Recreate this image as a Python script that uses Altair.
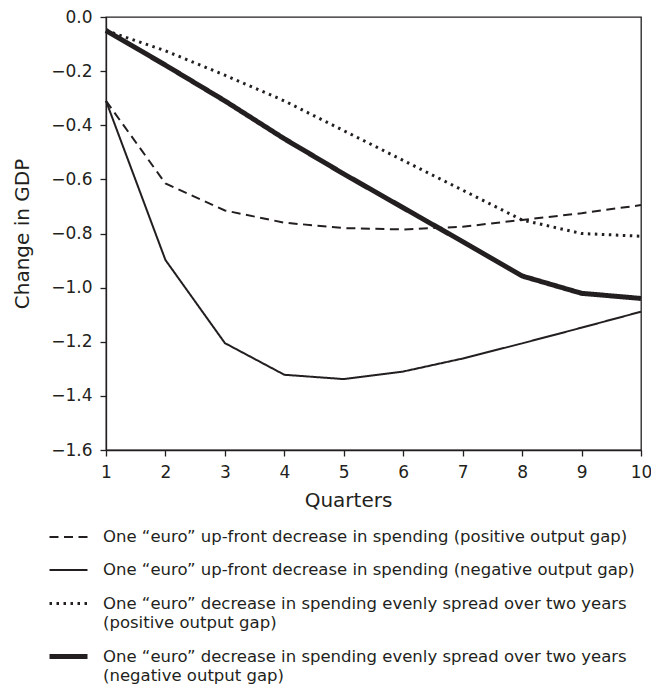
import altair as alt
import pandas as pd

quarters = [1, 2, 3, 4, 5, 6, 7, 8, 9, 10]

series_labels = [
    "One \u201ceuro\u201d up-front decrease in spending (positive output gap)",
    "One \u201ceuro\u201d up-front decrease in spending (negative output gap)",
    "One \u201ceuro\u201d decrease in spending evenly spread over two years\n(positive output gap)",
    "One \u201ceuro\u201d decrease in spending evenly spread over two years\n(negative output gap)",
]

upfront_positive = [-0.31, -0.615, -0.715, -0.76, -0.78, -0.785, -0.775, -0.75, -0.725, -0.695]
upfront_negative = [-0.31, -0.898, -1.205, -1.322, -1.338, -1.31, -1.262, -1.206, -1.148, -1.089]
spread_positive = [-0.05, -0.125, -0.215, -0.31, -0.42, -0.53, -0.64, -0.75, -0.80, -0.81]
spread_negative = [-0.05, -0.178, -0.31, -0.45, -0.58, -0.705, -0.83, -0.957, -1.021, -1.04]

y_ticks = [-1.6, -1.4, -1.2, -1.0, -0.8, -0.6, -0.4, -0.2, 0.0]

values_by_series = [upfront_positive, upfront_negative, spread_positive, spread_negative]
rows = []
for name, vals in zip(series_labels, values_by_series):
    for q, v in zip(quarters, vals):
        rows.append({"quarter": q, "change": v, "series": name})
df = pd.DataFrame(rows)

dash_styles = [[9, 5.5], [1, 0], [2.5, 4.5], [1, 0]]
line_widths = [2, 2, 3, 5]
ink = "#231f20"
font = "DejaVu Sans"

legend = alt.Legend(
    title=None,
    orient="none",
    legendX=-59,
    legendY=500,
    direction="vertical",
    symbolType="stroke",
    symbolSize=1444,
    symbolStrokeColor=ink,
    labelExpr="split(datum.label, '\\n')",
    labelFont=font,
    labelFontSize=16.5,
    labelColor=ink,
    labelLimit=700,
    labelOffset=13,
    rowPadding=4,
    padding=0,
)

chart = alt.Chart(df).mark_line(color=ink, strokeCap="butt").encode(
    x=alt.X(
        "quarter:Q",
        scale=alt.Scale(domain=[1, 10], nice=False, zero=False),
        axis=alt.Axis(title="Quarters", values=quarters, format="d", labelFlush=False,
                      tickSize=6, labelPadding=8,
                      titleX=242, titleY=40, titleAlign="center", titleBaseline="top"),
    ),
    y=alt.Y(
        "change:Q",
        scale=alt.Scale(domain=[-1.6, 0], nice=False, zero=False),
        axis=alt.Axis(title="Change in GDP", values=y_ticks, format=".1f", labelFlush=False,
                      tickSize=6, labelPadding=8,
                      titleX=-78, titleY=216.5, titleAngle=270, titleAlign="center",
                      titleBaseline="alphabetic"),
    ),
    strokeDash=alt.StrokeDash(
        "series:N",
        scale=alt.Scale(domain=series_labels, range=dash_styles),
        legend=legend,
    ),
    strokeWidth=alt.StrokeWidth(
        "series:N",
        scale=alt.Scale(type="ordinal", domain=series_labels, range=line_widths),
        legend=legend,
    ),
).properties(
    width=535,
    height=433,
    autosize=alt.AutoSizeParams(type="none"),
    padding={"left": 98, "top": 9, "right": 10, "bottom": 238},
).configure(
    font=font,
    style={"guide-label": {"lineHeight": 19}},
).configure_view(
    stroke=ink,
    strokeWidth=1.3,
).configure_axis(
    grid=False,
    domainColor=ink,
    domainWidth=1.3,
    tickColor=ink,
    tickWidth=1.3,
    labelColor=ink,
    titleColor=ink,
    labelFont=font,
    titleFont=font,
    labelFontSize=17,
    titleFontSize=20,
    titleFontWeight="normal",
)

chart.save("out.html", embed_options={"renderer": "svg", "actions": False})
